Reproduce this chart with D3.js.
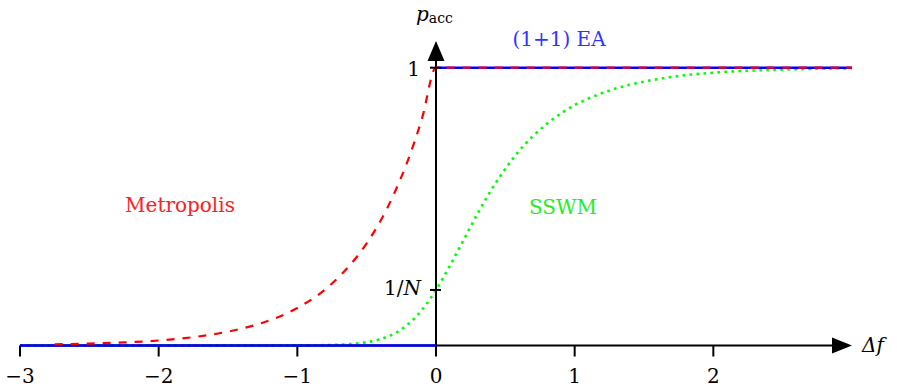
<!DOCTYPE html>
<html><head><meta charset="utf-8">
<script src="https://cdn.jsdelivr.net/npm/d3@7"></script>
<style>
html,body{margin:0;padding:0;background:#fff;}
</style></head>
<body><svg id="c" width="897" height="388"></svg>
<script>
// ---- data ----
const xTicks = [-3, -2, -1, 0, 1, 2];
const xTickLabels = ["\u22123", "\u22122", "\u22121", "0", "1", "2"];
const yTicks = [1, 0.2];
const yTickLabels = ["1", "1/N"];

// (1+1) EA: 0 for Δf<0, 1 for Δf>=0 (null = break)
const eaX = [-3, 0, null, 0, 3];
const eaY = [0, 0, null, 1, 1];

// Metropolis
const metX = [-2.75, -2.5, -2.25, -2, -1.75, -1.5, -1.25, -1, -0.75, -0.5, -0.4, -0.3, -0.2, -0.1, 0, 3];
const metY = [0.004, 0.007, 0.011, 0.018, 0.030, 0.050, 0.082, 0.135, 0.223, 0.368, 0.449, 0.549, 0.670, 0.819, 1, 1];

// SSWM
const sswmX = [-3, -2, -1, -0.75, -0.6, -0.5, -0.4, -0.3, -0.2, -0.1, 0, 0.1, 0.2, 0.3, 0.4, 0.5, 0.6, 0.7, 0.8, 0.9, 1.0, 1.2, 1.4, 1.6, 1.8, 2.0, 2.25, 2.5, 2.75, 3.0];
const sswmY = [0, 0, 0.0003, 0.002, 0.006, 0.012, 0.023, 0.043, 0.077, 0.129, 0.2, 0.287, 0.381, 0.475, 0.561, 0.636, 0.701, 0.754, 0.798, 0.835, 0.865, 0.909, 0.939, 0.959, 0.973, 0.982, 0.989, 0.993, 0.996, 0.998];

// ---- chart ----
const svg = d3.select("#c");
const x = d3.scaleLinear().domain([-3, 3]).range([20, 852]);
const y = d3.scaleLinear().domain([0, 1]).range([345.5, 67.7]);
const FS = 20;
const FONT = "DejaVu Serif";

const zip = (xs, ys) => xs.map((v, i) => [v, ys[i]]);
const line = d3.line().defined(d => d[0] !== null && d[1] !== null)
  .x(d => x(d[0])).y(d => y(d[1]));
const curve = d3.line().x(d => x(d[0])).y(d => y(d[1])).curve(d3.curveMonotoneX);

// SSWM (under)
svg.append("path").datum(zip(sswmX, sswmY)).attr("d", curve)
  .attr("fill", "none").attr("stroke", "#00ff00").attr("stroke-width", 2.6)
  .attr("stroke-dasharray", "2.6 4.4");

// axes
const ax = svg.append("g").attr("stroke", "#000").attr("stroke-width", 2);
ax.append("line").attr("x1", x(-3)).attr("x2", x(3) - 12).attr("y1", y(0)).attr("y2", y(0));
ax.append("line").attr("x1", x(0)).attr("x2", x(0)).attr("y1", y(0)).attr("y2", 52);
svg.append("polygon").attr("points", [[x(3), y(0)], [x(3) - 20, y(0) - 8], [x(3) - 20, y(0) + 8]].join(" ")).attr("fill", "#000");
svg.append("polygon").attr("points", [[x(0), 41], [x(0) - 8.5, 61], [x(0) + 8.5, 61]].join(" ")).attr("fill", "#000");

const T = (sel) => sel.append("text").style("font-family", FONT).attr("font-size", FS);

// x ticks
const xg = svg.append("g");
xTicks.forEach((t, i) => {
  xg.append("line").attr("x1", x(t)).attr("x2", x(t)).attr("y1", y(0)).attr("y2", y(0) + 11)
    .attr("stroke", "#000").attr("stroke-width", 2);
  T(xg).attr("x", x(t)).attr("y", 382.5).attr("text-anchor", "middle")
    .attr("fill", "#000").text(xTickLabels[i]);
});

// EA (blue)
svg.append("path").datum(zip(eaX, eaY)).attr("d", line)
  .attr("fill", "none").attr("stroke", "#0000ff").attr("stroke-width", 2.4);

// Metropolis (red dashed)
svg.append("path").datum(zip(metX, metY)).attr("d", curve)
  .attr("fill", "none").attr("stroke", "#ff0000").attr("stroke-width", 2.2)
  .attr("stroke-dasharray", "8 8");

// y ticks
const yg = svg.append("g");
yTicks.forEach((t) => {
  yg.append("line").attr("x1", x(0) - 6).attr("x2", x(0) + 5).attr("y1", y(t)).attr("y2", y(t))
    .attr("stroke", "#000").attr("stroke-width", 2);
});
T(yg).attr("x", 420).attr("y", y(1) + 8).attr("text-anchor", "end").text(yTickLabels[0]);
const nl = T(yg).attr("x", 421).attr("y", y(0.2) + 5).attr("text-anchor", "end");
nl.append("tspan").text("1/");
nl.append("tspan").attr("font-style", "italic").text("N");

// axis titles
const pt = T(svg).attr("x", 416).attr("y", 20.5);
pt.append("tspan").attr("font-style", "italic").text("p");
pt.append("tspan").attr("font-size", 14).attr("dy", 2).text("acc");
const df = T(svg).attr("x", 862).attr("y", 352);
df.append("tspan").attr("font-style", "italic").text("\u0394f");

// series labels
T(svg).attr("x", 559).attr("y", 46).attr("text-anchor", "middle")
  .attr("fill", "#3333ff").text("(1+1) EA");
T(svg).attr("x", 180).attr("y", 212).attr("text-anchor", "middle")
  .attr("fill", "#ff2020").text("Metropolis");
T(svg).attr("x", 563).attr("y", 214).attr("text-anchor", "middle")
  .attr("fill", "#22ee22").text("SSWM");
</script></body></html>
